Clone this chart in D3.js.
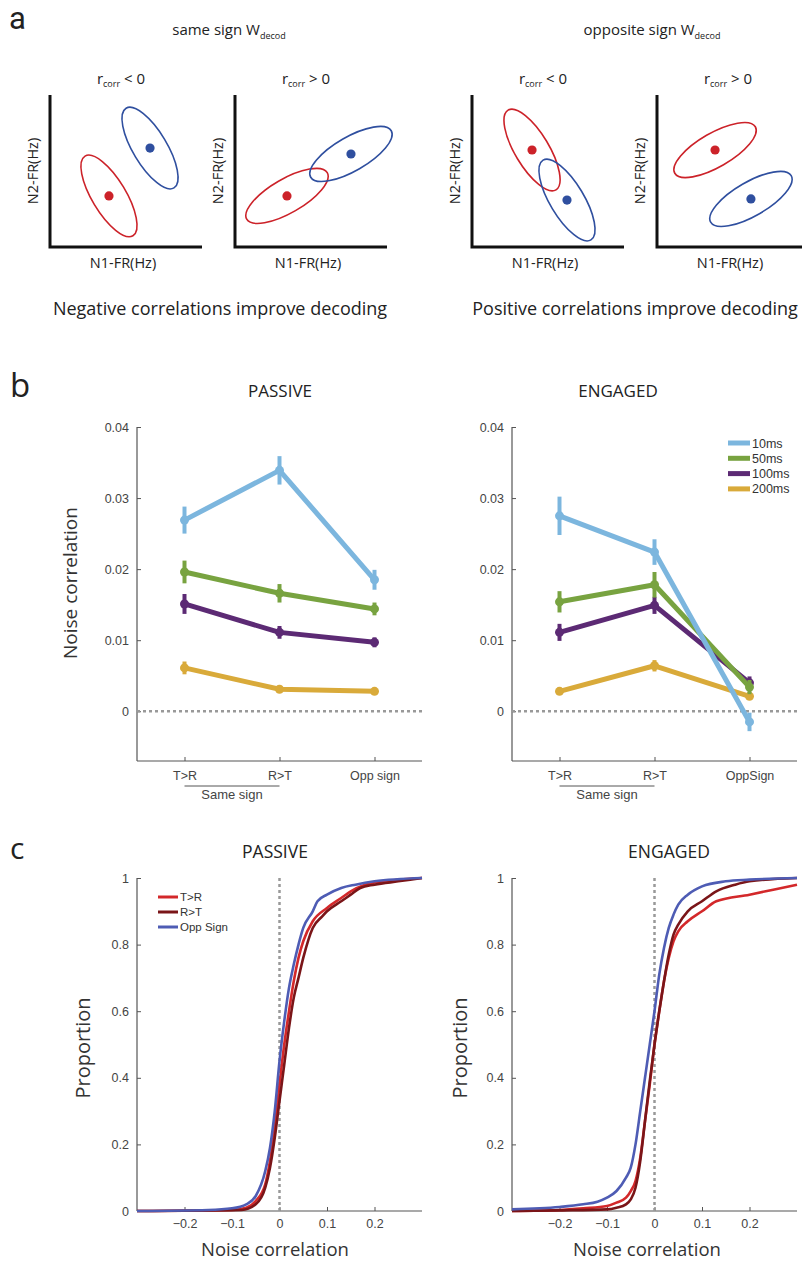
<!DOCTYPE html>
<html><head><meta charset="utf-8">
<script src="https://cdn.jsdelivr.net/npm/d3@7"></script>
<style>body{margin:0;background:#fff}svg{display:block}</style>
</head><body><svg id="c" width="802" height="1261"></svg>
<script>
// ---------- DATA ----------
// Panel a: schematic (unit coordinates inside each mini plot)
const schemTitles = ["same sign", "opposite sign"];
const schemSubtitles = ["Negative correlations improve decoding", "Positive correlations improve decoding"];
const schemCorrLabels = ["< 0", "> 0", "< 0", "> 0"];
const schemCorrSign = [-1, 1, -1, 1];
const schemRed = [[0.388, 0.336], [0.342, 0.336], [0.395, 0.638], [0.382, 0.638]];
const schemBlue = [[0.658, 0.651], [0.763, 0.612], [0.625, 0.309], [0.618, 0.316]];

// Panel b
const bCategories = ["T>R", "R>T", "Opp sign"];
const bCategoriesEng = ["T>R", "R>T", "OppSign"];
const bSeries = ["10ms", "50ms", "100ms", "200ms"];
const bTicks = [0, 0.01, 0.02, 0.03, 0.04];
const passive10 = [0.0269, 0.0339, 0.0185];
const passive50 = [0.0196, 0.0166, 0.0144];
const passive100 = [0.0151, 0.0111, 0.0097];
const passive200 = [0.0061, 0.0031, 0.0028];
const passiveErr10 = [0.0019, 0.0020, 0.0014];
const passiveErr50 = [0.0016, 0.0013, 0.0009];
const passiveErr100 = [0.0014, 0.0009, 0.0007];
const passiveErr200 = [0.0009, 0.0004, 0.0003];
const engaged10 = [0.0275, 0.0224, -0.0015];
const engaged50 = [0.0154, 0.0178, 0.0034];
const engaged100 = [0.0111, 0.0149, 0.0040];
const engaged200 = [0.0028, 0.0064, 0.0021];
const engagedErr10 = [0.0027, 0.0018, 0.0013];
const engagedErr50 = [0.0015, 0.0018, 0.0010];
const engagedErr100 = [0.0012, 0.0012, 0.0009];
const engagedErr200 = [0.0005, 0.0008, 0.0004];

// Panel c: cumulative distributions
const cSeries = ["T>R", "R>T", "Opp Sign"];
const cXTicks = [-0.2, -0.1, 0, 0.1, 0.2];
const cYTicks = [0, 0.2, 0.4, 0.6, 0.8, 1];
const pasTRx = [-0.3,-0.1,-0.07,-0.05,-0.03,-0.02,-0.01,0,0.01,0.02,0.03,0.04,0.05,0.07,0.1,0.13,0.15,0.18,0.22,0.3];
const pasTRy = [0,0.003,0.01,0.03,0.08,0.15,0.25,0.38,0.5,0.6,0.69,0.76,0.81,0.87,0.91,0.94,0.96,0.98,0.99,1.0];
const pasRTx = [-0.3,-0.08,-0.05,-0.03,-0.02,-0.01,0,0.01,0.02,0.03,0.04,0.05,0.07,0.09,0.1,0.13,0.15,0.17,0.2,0.25,0.3];
const pasRTy = [0,0.003,0.02,0.07,0.13,0.22,0.33,0.44,0.55,0.64,0.7,0.76,0.85,0.885,0.9,0.93,0.95,0.97,0.98,0.99,1.0];
const pasOSx = [-0.3,-0.15,-0.1,-0.07,-0.05,-0.03,-0.02,-0.01,0,0.01,0.02,0.03,0.04,0.05,0.07,0.08,0.1,0.13,0.16,0.2,0.3];
const pasOSy = [0,0.003,0.008,0.02,0.045,0.12,0.19,0.3,0.45,0.57,0.67,0.74,0.8,0.85,0.9,0.93,0.95,0.97,0.98,0.99,1.0];
const engTRx = [-0.3,-0.2,-0.15,-0.1,-0.08,-0.06,-0.05,-0.04,-0.03,-0.02,-0.01,0,0.01,0.02,0.03,0.04,0.05,0.07,0.1,0.13,0.2,0.25,0.3];
const engTRy = [0,0.003,0.008,0.015,0.025,0.04,0.06,0.09,0.16,0.27,0.38,0.5,0.6,0.69,0.76,0.81,0.84,0.87,0.9,0.93,0.95,0.965,0.98];
const engRTx = [-0.3,-0.2,-0.1,-0.08,-0.06,-0.05,-0.04,-0.03,-0.02,-0.01,0,0.01,0.02,0.03,0.04,0.05,0.07,0.1,0.13,0.17,0.2,0.3];
const engRTy = [0,0.002,0.005,0.01,0.02,0.035,0.07,0.15,0.27,0.39,0.5,0.6,0.69,0.77,0.83,0.86,0.9,0.93,0.96,0.98,0.99,1.0];
const engOSx = [-0.3,-0.2,-0.15,-0.12,-0.1,-0.08,-0.06,-0.05,-0.04,-0.03,-0.02,-0.01,0,0.01,0.02,0.03,0.04,0.05,0.07,0.1,0.15,0.2,0.3];
const engOSy = [0.005,0.012,0.02,0.028,0.04,0.06,0.1,0.13,0.2,0.3,0.4,0.5,0.6,0.71,0.79,0.85,0.89,0.92,0.95,0.975,0.99,0.995,1.0];

// ---------- STYLE ----------
const TXT = "'Open Sans', 'Noto Sans', sans-serif";
const NUM = "'Liberation Sans', Arial, sans-serif";
const RED = "#cc2229", BLUE = "#2f4f9f";
const bColors = ["#7cb6de", "#78a340", "#5c2a74", "#d9aa3a"];
const cColors = ["#d3282a", "#7a1518", "#4e5cb4"];
const AX = "#555";

const svg = d3.select("#c");

function label(x, y, t, size, opts = {}) {
  return svg.append("text").attr("x", x).attr("y", y).text(t)
    .attr("font-family", opts.font || TXT).attr("font-size", size)
    .attr("fill", opts.fill || "#222").attr("text-anchor", opts.anchor || "middle")
    .attr("transform", opts.rot ? `rotate(-90,${x},${y})` : null);
}

// ---------- PANEL A ----------
label(9, 29, "a", 31, {anchor: "start", font: "Roboto, sans-serif"});
const titleX = [229, 652];
schemTitles.forEach((t, i) => {
  const tx = svg.append("text").attr("x", titleX[i]).attr("y", 35).attr("text-anchor", "middle")
    .attr("font-family", TXT).attr("font-size", 15).attr("fill", "#222");
  tx.append("tspan").text(t + " W");
  tx.append("tspan").text("decod").attr("font-size", 9).attr("dy", 4);
});
const subX = [220, 635];
schemSubtitles.forEach((t, i) => label(subX[i], 315, t, 18));

const miniX0 = [50, 235, 472, 657];
const miniSize = 152, miniBottom = 247;
miniX0.forEach((x0, i) => {
  const sx = d3.scaleLinear().domain([0, 1]).range([x0, x0 + miniSize]);
  const sy = d3.scaleLinear().domain([0, 1]).range([miniBottom, miniBottom - miniSize]);
  svg.append("path").attr("d", `M${sx(0)},${sy(1)}V${sy(0)}H${sx(1)}`)
    .attr("fill", "none").attr("stroke", "#111").attr("stroke-width", 3);
  const cx = (x0 + x0 + miniSize) / 2;
  const tx = svg.append("text").attr("x", cx - 5).attr("y", 84).attr("text-anchor", "middle")
    .attr("font-family", TXT).attr("font-size", 15).attr("fill", "#222");
  tx.append("tspan").text("r");
  tx.append("tspan").text("corr").attr("font-size", 9).attr("dy", 3);
  tx.append("tspan").text(" " + schemCorrLabels[i]).attr("dy", -3);
  label(cx - 3, 268, "N1-FR(Hz)", 14.5);
  label(x0 - 12, 171, "N2-FR(Hz)", 14.5, {rot: true});
  const ang = schemCorrSign[i] < 0 ? 59 : -30;
  [[schemRed[i], RED], [schemBlue[i], BLUE]].forEach(([p, col]) => {
    const px = sx(p[0]), py = sy(p[1]);
    svg.append("ellipse").attr("cx", 0).attr("cy", 0).attr("rx", 46.5).attr("ry", 17)
      .attr("transform", `translate(${px},${py}) rotate(${ang})`)
      .attr("fill", "none").attr("stroke", col).attr("stroke-width", 1.6);
    svg.append("circle").attr("cx", px).attr("cy", py).attr("r", 4.6).attr("fill", col);
  });
});

// ---------- PANEL B ----------
label(10, 397, "b", 33, {anchor: "start"});
function panelB(x0, title, titleX, cats, vals, errs, showYLabel, showLegend) {
  const x = d3.scaleLinear().domain([0.5, 3.5]).range([x0, x0 + 285]);
  const y = d3.scaleLinear().domain([-0.007, 0.04]).range([761, 427]);
  label(titleX, 397, title, 17);
  const g = svg.append("g");
  const ya = g.append("g").attr("transform", `translate(${x0},0)`)
    .call(d3.axisLeft(y).tickValues(bTicks).tickSize(-4).tickPadding(8).tickFormat(d => d === 0 ? "0" : d3.format(".2f")(d)));
  const xa = g.append("g").attr("transform", `translate(0,761)`)
    .call(d3.axisBottom(x).tickValues([1, 2, 3]).tickSize(-4).tickPadding(10).tickFormat((d, i) => cats[i]));
  [ya, xa].forEach(a => {
    a.select(".domain").attr("stroke", AX).attr("stroke-width", 1.2);
    a.selectAll(".tick line").attr("stroke", AX);
    a.selectAll("text").attr("font-family", NUM).attr("font-size", 12.5).attr("fill", "#444");
  });
  ya.select(".domain").attr("d", `M0,${y.range()[1]}V${y.range()[0]}`);
  xa.select(".domain").attr("d", `M${x0},0H${x0 + 285}`);
  g.append("line").attr("x1", x(1)).attr("x2", x(2)).attr("y1", 786).attr("y2", 786)
    .attr("stroke", AX).attr("stroke-width", 1);
  label((x(1) + x(2)) / 2, 799, "Same sign", 13, {font: NUM, fill: "#444"});
  g.append("line").attr("x1", x0).attr("x2", x0 + 285).attr("y1", y(0)).attr("y2", y(0))
    .attr("stroke", "#999").attr("stroke-width", 2.5).attr("stroke-dasharray", "3,3");
  if (showYLabel) label(x0 - 60, 583, "Noise correlation", 19, {rot: true, fill: "#333"});
  const line = d3.line().x((d, i) => x(i + 1)).y(d => y(d));
  const order = [3, 2, 1, 0];
  order.forEach(s => {
    const col = bColors[s];
    g.append("path").attr("d", line(vals[s])).attr("fill", "none").attr("stroke", col)
      .attr("stroke-width", 5).attr("stroke-linejoin", "round");
    vals[s].forEach((v, i) => {
      g.append("line").attr("x1", x(i + 1)).attr("x2", x(i + 1))
        .attr("y1", y(v - errs[s][i])).attr("y2", y(v + errs[s][i]))
        .attr("stroke", col).attr("stroke-width", 4);
      g.append("circle").attr("cx", x(i + 1)).attr("cy", y(v)).attr("r", 4.5).attr("fill", col);
    });
  });
  if (showLegend) {
    bSeries.forEach((s, i) => {
      const ly = 443 + i * 15.3;
      g.append("line").attr("x1", 728).attr("x2", 750).attr("y1", ly).attr("y2", ly)
        .attr("stroke", bColors[i]).attr("stroke-width", 5);
      label(752, ly + 4.5, s, 12.5, {font: NUM, anchor: "start", fill: "#333"});
    });
  }
}
panelB(137, "PASSIVE", 280, bCategories,
  [passive10, passive50, passive100, passive200],
  [passiveErr10, passiveErr50, passiveErr100, passiveErr200], true, false);
panelB(512, "ENGAGED", 618, bCategoriesEng,
  [engaged10, engaged50, engaged100, engaged200],
  [engagedErr10, engagedErr50, engagedErr100, engagedErr200], false, true);

// ---------- PANEL C ----------
label(10, 859, "c", 30, {anchor: "start"});
function panelC(x0, title, titleX, curves, yLabX, xLabX, showLegend) {
  const x = d3.scaleLinear().domain([-0.3, 0.3]).range([x0, x0 + 285]);
  const y = d3.scaleLinear().domain([0, 1]).range([1211, 878]);
  label(titleX, 858, title, 17.5);
  const g = svg.append("g");
  const ya = g.append("g").attr("transform", `translate(${x0},0)`)
    .call(d3.axisLeft(y).tickValues(cYTicks).tickSize(-4).tickPadding(8).tickFormat(d => d3.format("")(d)));
  const xa = g.append("g").attr("transform", `translate(0,1211)`)
    .call(d3.axisBottom(x).tickValues(cXTicks).tickSize(-4).tickPadding(8).tickFormat(d => d3.format("")(d)));
  [ya, xa].forEach(a => {
    a.select(".domain").attr("stroke", AX).attr("stroke-width", 1.2);
    a.selectAll(".tick line").attr("stroke", AX);
    a.selectAll("text").attr("font-family", NUM).attr("font-size", 12.5).attr("fill", "#444");
  });
  ya.select(".domain").attr("d", `M0,878V1211`);
  xa.select(".domain").attr("d", `M${x0},0H${x0 + 285}`);
  g.append("line").attr("x1", x(0)).attr("x2", x(0)).attr("y1", y(1)).attr("y2", y(0))
    .attr("stroke", "#999").attr("stroke-width", 2.5).attr("stroke-dasharray", "3,3");
  label(yLabX, 1048, "Proportion", 20, {rot: true, fill: "#333"});
  label(xLabX, 1256, "Noise correlation", 18.5, {fill: "#333"});
  const line = d3.line().x(d => x(d[0])).y(d => y(d[1])).curve(d3.curveMonotoneX);
  curves.forEach((c, i) => {
    const pts = c[0].map((v, k) => [v, c[1][k]]);
    g.append("path").attr("d", line(pts)).attr("fill", "none").attr("stroke", cColors[i])
      .attr("stroke-width", 2.6);
  });
  if (showLegend) {
    cSeries.forEach((s, i) => {
      const ly = 897 + i * 15;
      g.append("line").attr("x1", 158).attr("x2", 178).attr("y1", ly).attr("y2", ly)
        .attr("stroke", cColors[i]).attr("stroke-width", 3);
      label(180, ly + 4, s, 11.5, {font: NUM, anchor: "start", fill: "#333"});
    });
  }
}
panelC(137, "PASSIVE", 275, [[pasTRx, pasTRy], [pasRTx, pasRTy], [pasOSx, pasOSy]], 90, 275, true);
panelC(512, "ENGAGED", 669, [[engTRx, engTRy], [engRTx, engRTy], [engOSx, engOSy]], 467, 647, false);
</script></body></html>
